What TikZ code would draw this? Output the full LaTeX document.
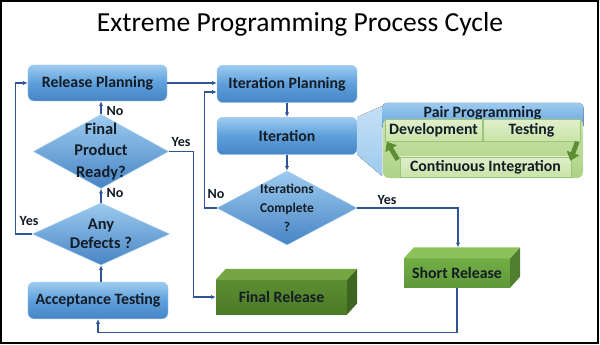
\documentclass[tikz,border=0pt]{standalone}
\usepackage{fontspec}
\setmainfont{Carlito}
\usetikzlibrary{arrows.meta,positioning,calc,shapes.geometric}
\definecolor{FlowBlueLight}{HTML}{9DCBEF}
\definecolor{FlowBlue}{HTML}{5E9FDB}
\definecolor{FlowBlueDark}{HTML}{4784C4}
\definecolor{LinkBlue}{HTML}{2F5597}
\definecolor{InkDark}{HTML}{141C26}
\definecolor{GreenTop}{HTML}{76A544}
\definecolor{GreenFront}{HTML}{5C8D31}
\definecolor{GreenFrontDark}{HTML}{4C7A27}
\definecolor{GreenSide}{HTML}{3F6620}
\definecolor{LeafTop}{HTML}{8CC25B}
\definecolor{Leaf}{HTML}{72AE45}
\definecolor{LeafDark}{HTML}{5F9838}
\definecolor{LeafSide}{HTML}{4F7F2E}
\definecolor{PairGreen}{HTML}{C9E4A8}
\definecolor{PairGreenDark}{HTML}{ADD287}
\definecolor{PairEdge}{HTML}{9CC47A}
\definecolor{CycleGreen}{HTML}{5E8E33}

\begin{document}
\begin{tikzpicture}[x=0.03cm,y=-0.03cm,>={Latex[length=4pt,width=3.6pt]},
  boldtext/.style={font=\fontsize{13.5}{15}\selectfont\bfseries,text=InkDark},
  procbox/.style={boldtext,draw=FlowBlueLight,rounded corners=5pt,
    top color=FlowBlueLight,bottom color=FlowBlueDark,middle color=FlowBlue,
    minimum width=4.2cm,minimum height=1.12cm,inner sep=0pt},
  decision/.style={diamond,draw=FlowBlueLight,top color=FlowBlueLight,
    bottom color=FlowBlueDark,inner sep=0pt},
  qtext/.style={align=center,text=InkDark,font=\fontsize{14}{18}\selectfont\bfseries},
  relbox/.style={boldtext,minimum width=3.93cm,minimum height=1.02cm,inner sep=0pt},
  pairbox/.style={boldtext,draw=PairEdge,top color=PairGreen!60!white,
    bottom color=PairGreen,minimum height=0.66cm,inner sep=0pt},
  yesno/.style={font=\fontsize{12}{14}\selectfont\bfseries,text=InkDark,inner sep=0pt},
  link/.style={LinkBlue,line width=1pt},
  cyclearrow/.style={CycleGreen,line width=4pt,-{Triangle[length=7pt,width=11pt]}}]
  \useasboundingbox (0,0) rectangle (600,345);
  \draw[line width=1pt] (1,1) rectangle (598,343);
  \node[font=\fontsize{23.5}{27}\selectfont] (title) at (300,24) {Extreme Programming Process Cycle};

  % blue process steps
  \node[procbox,minimum width=4.17cm,minimum height=1.08cm] (relplan) at (97.5,83) {Release Planning};
  \node[procbox] (iterplan) at (287,84) {Iteration Planning};
  \node[procbox] (iter) at (287,136) {Iteration};
  \node[procbox,minimum height=1.1cm] (acctest) at (98,300.5) {Acceptance Testing};

  % decisions
  \node[decision,minimum width=4.05cm,minimum height=2.22cm,
    label={[qtext]center:Final\\Product\\Ready?}] (ready) at (101,151.5) {};
  \node[decision,minimum width=4.11cm,minimum height=1.86cm,
    label={[qtext,font=\fontsize{14}{16}\selectfont\bfseries]center:Any\\Defects ?}] (defects) at (101,234) {};
  \node[decision,minimum width=4.2cm,minimum height=2.22cm,
    label={[qtext,font=\fontsize{11.5}{16}\selectfont\bfseries]center:Iterations\\Complete\\?}] (itdone) at (287,208) {};

  % green releases
  \node[relbox,top color=GreenFront,bottom color=GreenFrontDark] (finalrel) at (281.5,297) {Final Release};
  \node[relbox,minimum width=3.18cm,minimum height=0.86cm,top color=Leaf,bottom color=LeafDark] (shortrel) at (457,273) {Short Release};
  \foreach \rel/\topc/\sidec in {finalrel/GreenTop/GreenSide,shortrel/LeafTop/LeafSide}{
    \fill[\topc] (\rel.north west) -- ++(10,-11) -- ($(\rel.north east)+(10,-11)$) -- (\rel.north east) -- cycle;
    \fill[\sidec] (\rel.north east) -- ++(10,-11) -- ($(\rel.south east)+(10,-11)$) -- (\rel.south east) -- cycle;
  }

  % pair programming group
  \fill[top color=FlowBlueLight!60!white,bottom color=FlowBlueLight] (iter.north east) -- (382,106) -- (382,176) -- (iter.south east) -- cycle;
  \fill[rounded corners=4pt,top color=FlowBlueLight,bottom color=FlowBlue] (382,103) rectangle (583.5,130);
  \node[boldtext,inner sep=0pt,text depth=0pt] (pairhead) at (482.5,112) {Pair Programming};
  \node[rounded corners=5pt,top color=PairGreen,bottom color=PairGreenDark,minimum width=6.0cm,
    minimum height=1.77cm,inner sep=0pt] (pairarea) at (483,148.5) {};
  \node[pairbox,minimum width=2.91cm] (devel) at (433.5,130.5) {Development};
  \node[pairbox,minimum width=2.91cm] (testing) at (531.5,130.5) {Testing};
  \node[pairbox,minimum width=5.13cm,minimum height=0.6cm] (contint) at (485.5,167) {Continuous Integration};
  \draw[cyclearrow] ($(contint.north west)+(-2,3)$) -- ($(devel.south west)+(2,0)$);
  \draw[cyclearrow] ($(testing.south east)+(-3,0)$) -- ($(contint.north east)+(-1,4)$);

  % connectors
  \draw[link,->] (relplan.east) -- (relplan.east -| iterplan.west);
  \draw[link,->] (iterplan) -- (iter);
  \draw[link,->] (iter) -- (itdone);
  \draw[link,->] (itdone.west) -- ++(-12,0) |- ($(iterplan.west)+(0,8)$);
  \draw[link,->] (itdone.east) -| ($(shortrel.north)+(1,-11)$);
  \draw[link,->] (shortrel.south) -- ++(0,45) -| (acctest.south);
  \draw[link,->] (defects.south |- acctest.north) -- (defects.south);
  \draw[link,->] (defects.north) -- (ready.south);
  \draw[link,->] (ready.north) -- (ready.north |- relplan.south);
  \draw[link,->] (defects.west) -- ++(-17,0) |- (relplan.west);
  \draw[link,->] (ready.east) -- ++(25,0) |- (finalrel.west);

  % branch labels
  \node[yesno] (noready) at (115,111) {No};
  \node[yesno] (nodefects) at (115,193) {No};
  \node[yesno] (yesdefects) at (29,221) {Yes};
  \node[yesno] (yesready) at (181,142) {Yes};
  \node[yesno] (noiter) at (216,194) {No};
  \node[yesno] (yesiter) at (387,200) {Yes};
\end{tikzpicture}
\end{document}
